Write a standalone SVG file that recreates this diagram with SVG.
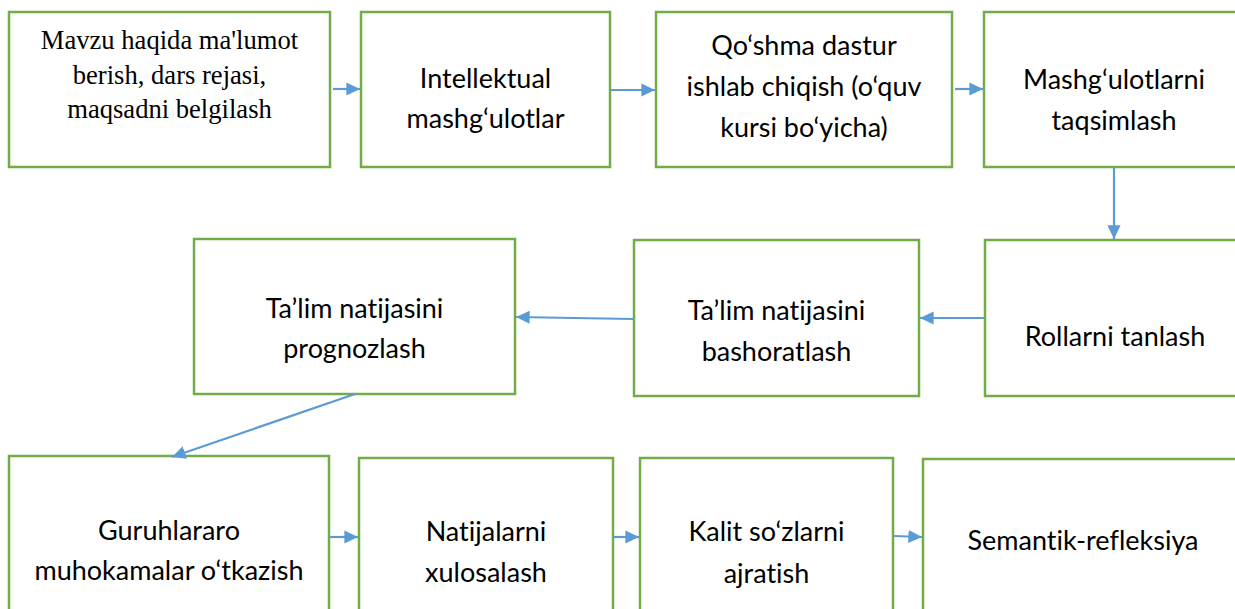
<svg xmlns="http://www.w3.org/2000/svg" width="1235" height="609" viewBox="0 0 1235 609">
<style>
.box{fill:#fff;stroke:#70AD47;stroke-width:2.5}
.t{font-family:Lato,"Liberation Sans",sans-serif;font-size:27px;fill:#000;text-anchor:middle;font-variant-ligatures:none}
.s{font-family:"Liberation Serif",serif;font-size:26.6px;fill:#000;text-anchor:middle}
.c line{stroke:#5B9BD5;stroke-width:2.2;marker-end:url(#ah)}
</style>
<defs>
<marker id="ah" viewBox="0 0 10 10" refX="10" refY="5" markerWidth="6.2" markerHeight="6" orient="auto" markerUnits="strokeWidth" preserveAspectRatio="none">
<path d="M0,0L10,5L0,10z" fill="#5B9BD5"/>
</marker>
</defs>
<rect width="1235" height="609" fill="#fff"/>
<g id="n1"><rect class="box" x="9" y="12" width="321" height="155"/>
<text class="s" x="169.5" y="49">Mavzu haqida ma'lumot</text>
<text class="s" x="169.5" y="84">berish, dars rejasi,</text>
<text class="s" x="169.5" y="118">maqsadni belgilash</text></g>
<g id="n2"><rect class="box" x="361" y="12" width="249" height="155"/>
<text class="t" x="485.5" y="88">Intellektual</text>
<text class="t" x="485.5" y="128">mashg‘ulotlar</text></g>
<g id="n3"><rect class="box" x="656" y="12" width="296" height="155"/>
<text class="t" x="804" y="55">Qo‘shma dastur</text>
<text class="t" x="804" y="96">ishlab chiqish (o‘quv</text>
<text class="t" x="804" y="137">kursi bo‘yicha)</text></g>
<g id="n4"><rect class="box" x="984" y="12" width="262" height="155"/>
<text class="t" x="1114" y="89">Mashg‘ulotlarni</text>
<text class="t" x="1114" y="130">taqsimlash</text></g>
<g id="n5"><rect class="box" x="985" y="240" width="262" height="156"/>
<text class="t" x="1115" y="346">Rollarni tanlash</text></g>
<g id="n6"><rect class="box" x="634" y="240" width="285" height="156"/>
<text class="t" x="776.5" y="320">Ta’lim natijasini</text>
<text class="t" x="776.5" y="361">bashoratlash</text></g>
<g id="n7"><rect class="box" x="194" y="239" width="321" height="155"/>
<text class="t" x="354.5" y="318">Ta’lim natijasini</text>
<text class="t" x="354.5" y="358">prognozlash</text></g>
<g id="n8"><rect class="box" x="9" y="456" width="320" height="160"/>
<text class="t" x="169" y="540">Guruhlararo</text>
<text class="t" x="169" y="580">muhokamalar o‘tkazish</text></g>
<g id="n9"><rect class="box" x="359" y="458" width="254" height="160"/>
<text class="t" x="486" y="541">Natijalarni</text>
<text class="t" x="486" y="582">xulosalash</text></g>
<g id="n10"><rect class="box" x="640" y="458" width="253" height="160"/>
<text class="t" x="766.5" y="541">Kalit so‘zlarni</text>
<text class="t" x="766.5" y="583">ajratish</text></g>
<g id="n11"><rect class="box" x="923" y="459" width="322" height="160"/>
<text class="t" x="1083" y="550">Semantik-refleksiya</text></g>
<g id="connectors" class="c">
<line x1="333" y1="89" x2="360" y2="89"/>
<line x1="611" y1="90" x2="655" y2="90"/>
<line x1="955" y1="89" x2="983" y2="89"/>
<line x1="1114" y1="168" x2="1114" y2="239"/>
<line x1="984" y1="318" x2="920" y2="318"/>
<line x1="633" y1="319" x2="516" y2="317"/>
<line x1="355" y1="394" x2="172" y2="457"/>
<line x1="330" y1="537" x2="358" y2="537"/>
<line x1="614" y1="537" x2="639" y2="537"/>
<line x1="894" y1="536" x2="922" y2="537"/>
</g>
</svg>
